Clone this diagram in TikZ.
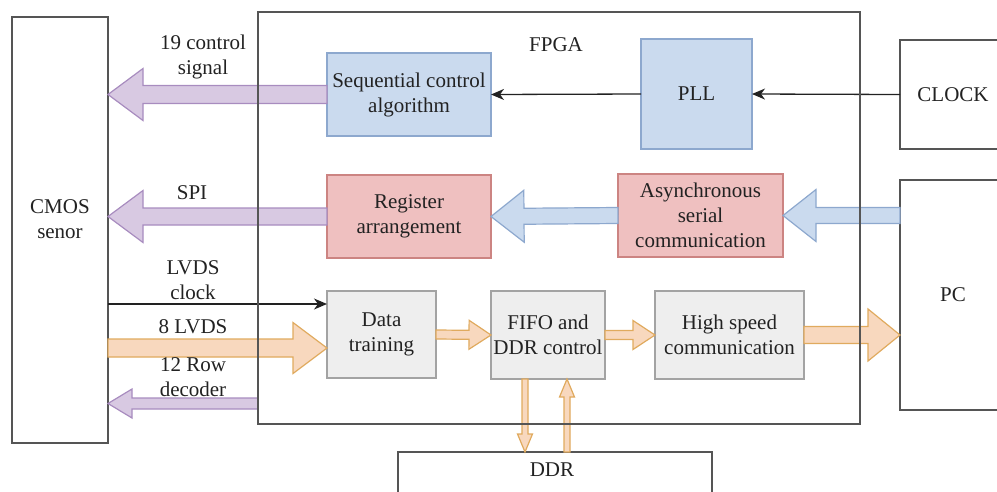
\documentclass[tikz,border=0pt]{standalone}
\usepackage{fontspec}
\setmainfont{Liberation Serif}
\usetikzlibrary{calc,arrows.meta}
\definecolor{txt}{HTML}{222222}
\definecolor{boxline}{HTML}{555555}
\definecolor{purfill}{HTML}{D8C9E2}
\definecolor{purline}{HTML}{A88CBF}
\definecolor{bluefill}{HTML}{CADAEE}
\definecolor{blueline}{HTML}{8DA8CE}
\definecolor{redfill}{HTML}{EFC0C0}
\definecolor{redline}{HTML}{CC8482}
\definecolor{orfill}{HTML}{F8D8BE}
\definecolor{orline}{HTML}{E0AA5E}
\definecolor{grfill}{HTML}{EEEEEE}
\definecolor{grline}{HTML}{A3A3A3}
\tikzset{
  box/.style={draw=boxline, line width=1.6pt, inner sep=0pt, outer sep=0pt,
    align=center, text=txt, font=\fontsize{21}{25}\selectfont},
  bluebox/.style={box, fill=bluefill, draw=blueline},
  redbox/.style={box, fill=redfill, draw=redline},
  graybox/.style={box, fill=grfill, draw=grline},
  lbl/.style={align=center, text=txt, inner sep=0pt, font=\fontsize{21}{25}\selectfont},
  thinarrow/.style={draw=txt, line width=1.3pt, -{Stealth[length=13pt,width=11pt,inset=4pt]}},
  purarrow/.style={fill=purfill, draw=purline, line width=1.2pt, line join=miter},
  bluearrow/.style={fill=bluefill, draw=blueline, line width=1.2pt, line join=miter},
  orarrow/.style={fill=orfill, draw=orline, line width=1.2pt, line join=miter},
}
% #1 style, #2 tail, #3 tip, #4 shaft half width, #5 head half width, #6 head length
\newcommand\fatarrow[6]{%
  \coordinate (fahead) at ($(#3)!#6!(#2)$);
  \path[#1] ($(#2)!#4!90:(#3)$) -- ($(fahead)!#4!90:(#3)$) -- ($(fahead)!#5!90:(#3)$)
    -- (#3) -- ($(fahead)!#5!-90:(#3)$) -- ($(fahead)!#4!-90:(#3)$)
    -- ($(#2)!#4!-90:(#3)$) -- cycle;}
\begin{document}
\begin{tikzpicture}[x=1pt,y=-1pt]
\useasboundingbox (0,0) rectangle (997,491);
\clip (0,0) rectangle (997,491);

% boxes
\node[box, minimum width=96pt, minimum height=426pt] (cmos) at (60,230) {};
\node[lbl] (cmoslbl) at (60,219.5) {CMOS\\senor};
\node[box, minimum width=106pt, minimum height=109pt] (clock) at (953,94.5) {CLOCK};
\node[box, minimum width=106pt, minimum height=230pt] (pc) at (953,295) {PC};
\node[box, minimum width=314pt, minimum height=88pt] (ddr) at (555,496) {};
\node[lbl] (ddrlbl) at (552,470) {DDR};

\node[bluebox, minimum width=164pt, minimum height=83pt] (seq) at (409,94.5) {Sequential control\\algorithm};
\node[bluebox, minimum width=111pt, minimum height=110pt] (pll) at (696.5,94) {PLL};
\node[redbox, minimum width=164pt, minimum height=83pt] (reg) at (409,216.5) {Register\\arrangement};
\node[redbox, minimum width=165pt, minimum height=83pt] (async) at (700.5,215.5) {Asynchronous\\serial\\communication};
\node[graybox, minimum width=109pt, minimum height=87pt] (data) at (381.5,334.5) {Data\\training};
\node[graybox, minimum width=114pt, minimum height=88pt] (fifo) at (548,335) {FIFO and\\DDR control};
\node[graybox, minimum width=149pt, minimum height=88pt] (hs) at (729.5,335) {High speed\\communication};

% helper coordinates
\coordinate (clky) at (0,304);
\coordinate (lvdsy) at (0,348);
\coordinate (rowy) at (0,403.5);
\coordinate (dnx) at (525,0);
\coordinate (upx) at (567,0);
\coordinate (seqtip) at (cmos.east |- seq.west);
\coordinate (regtip) at (cmos.east |- reg.west);
\coordinate (pctail) at (pc.west |- async.east);
\coordinate (lvdstail) at (cmos.east |- lvdsy);
\coordinate (lvdstip) at (data.west |- lvdsy);
\coordinate (hstip) at (pc.west |- hs.east);
\coordinate (rowtail) at (258,403.5);
\coordinate (rowtip) at (cmos.east |- rowy);
\coordinate (dntail) at (fifo.south -| dnx);
\coordinate (dntip) at (ddr.north -| dnx);
\coordinate (uptail) at (ddr.north -| upx);
\coordinate (uptip) at (fifo.south -| upx);
\coordinate (clkstart) at (cmos.east |- clky);
\coordinate (clkend) at (data.west |- clky);

% fat arrows
\fatarrow{purarrow}{seq.west}{seqtip}{9pt}{26pt}{35pt}
\fatarrow{purarrow}{reg.west}{regtip}{8.5pt}{26pt}{35pt}
\fatarrow{bluearrow}{async.west}{reg.east}{8pt}{26pt}{33pt}
\fatarrow{bluearrow}{pctail}{async.east}{8pt}{26pt}{33pt}
\fatarrow{orarrow}{lvdstail}{lvdstip}{9pt}{25.5pt}{34pt}
\fatarrow{orarrow}{data.east}{fifo.west}{4.5pt}{14.5pt}{22pt}
\fatarrow{orarrow}{fifo.east}{hs.west}{4.5pt}{14.5pt}{22pt}
\fatarrow{orarrow}{hs.east}{hstip}{8.5pt}{26pt}{32pt}
\fatarrow{purarrow}{rowtail}{rowtip}{5.5pt}{14.5pt}{24pt}
\fatarrow{orarrow}{dntail}{dntip}{3pt}{7.5pt}{18pt}
\fatarrow{orarrow}{uptail}{uptip}{3pt}{7.5pt}{18pt}

% thin arrows
\draw[thinarrow] (clock.west) -- (pll.east);
\draw[thinarrow] (pll.west) -- (seq.east);
\draw[thinarrow] (clkstart) -- (clkend);

% FPGA frame on top
\node[box, minimum width=602pt, minimum height=412pt] (fpga) at (559,218) {};
\node[lbl] (fpgalbl) at (556,45) {FPGA};

% labels
\node[lbl] (l19) at (203,57) {19 control\\signal};
\node[lbl] (lspi) at (192,193) {SPI};
\node[lbl] (lclk) at (193,280) {LVDS\\clock};
\node[lbl] (llvds) at (193,327) {8 LVDS};
\node[lbl] (lrow) at (193,377) {12 Row\\decoder};
\end{tikzpicture}
\end{document}
